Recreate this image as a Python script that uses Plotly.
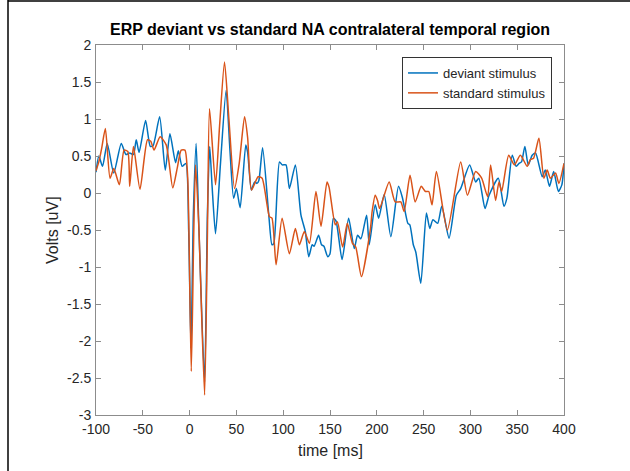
import plotly.graph_objects as go

# ---- data ----
dev_t = [-100, -97, -93, -88, -81, -73, -68, -64, -60, -57, -54, -47, -42, -39, -32, -26, -21, -15, -12, -8,
         -4, -1, 1.5, 4, 7, 10, 16, 19, 21.5, 24, 27.7, 33, 39, 43, 47, 50, 54, 60, 62, 66,
         69.5, 72, 74, 78, 84.6, 88, 90, 96, 99, 103, 106.6, 113, 119, 123.6, 127.3, 131, 133, 137.8, 141, 143.5,
         147.5, 150, 153.6, 156.5, 162.9, 169.9, 175.9, 179.5, 183, 189.1, 191.9, 198.3, 202, 207.9, 215, 223.2, 227.5, 233.2, 235.3, 239,
         241.7, 247, 253, 256.6, 260, 265, 269.4, 277.2, 285, 289.6, 299.2, 305.6, 309, 315.6, 320, 329.8, 335.8, 339, 344.7, 349,
         352, 354.6, 358.2, 361.8, 366, 369.6, 376.7, 380, 384.5, 389, 394, 397.7, 400]
dev_v = [0.28, 0.50, 0.36, 0.67, 0.27, 0.67, 0.52, 0.54, 0.52, 0.72, 0.55, 0.98, 0.63, 0.64, 1.03, 0.31, 0.80, 0.41, 0.57, 0.36,
         0.40, -0.5, -2.1, -0.3, 0.67, -0.5, -2.55, -0.3, 0.63, 0.1, -0.55, 0.4, 1.39, 0.6, -0.07, 0.06, -0.2, 0.65, 0.55, 0.04,
         0.15, 0.13, 0.17, 0.61, -0.3, -0.7, -0.68, 0.42, 0.38, 0.38, 0.06, 0.38, -0.3, -0.52, -0.86, -0.7, -0.72, -0.57, -0.7, -0.72,
         -0.86, -0.82, -0.34, -0.38, -0.9, -0.34, -0.75, -0.57, -0.62, -0.3, -0.7, -0.16, -0.34, -0.02, -0.59, 0.09, -0.07, -0.41, -0.43, -0.7,
         -0.8, -1.22, -0.27, -0.48, -0.36, -0.41, -0.18, -0.61, -0.03, 0.06, 0.38, 0.15, 0.2, -0.21, -0.03, 0.2, -0.18, -0.07, 0.51, 0.36,
         0.40, 0.42, 0.63, 0.38, 0.51, 0.54, 0.22, 0.31, 0.09, 0.29, 0.02, 0.11, 0.40]

std_t = [-100, -97, -94, -90, -85, -81, -75, -70, -66, -64, -60, -53, -45, -41.5, -38, -31.5, -25, -18, -13, -9,
         -5, -2, 1.8, 4.5, 6.4, 10, 16, 19, 21.3, 27.7, 32, 37.3, 42, 48, 53, 58.7, 62, 66.1, 73.2, 77.5,
         85.3, 88, 92.4, 98.8, 106.6, 113, 117.3, 122.6, 128, 135, 140.4, 146.8, 149, 155.6, 158, 163.5, 168.5, 174, 177.5, 183.6,
         193.2, 195, 198.3, 200.8, 203, 213.2, 219.6, 225.6, 229.2, 235.5, 241, 247.5, 252, 255.5, 259, 263.7, 275.4, 289.6, 296.8, 305.6,
         312, 318.4, 321.6, 326.9, 330.5, 333.4, 340.9, 347, 353.4, 360.7, 364, 367.5, 373.2, 378.5, 382, 385.5, 391, 394.5, 400]
std_v = [0.30, 0.42, 0.60, 0.87, 0.20, 0.33, 0.11, 0.58, 0.56, 0.09, 0.63, 0.05, 0.72, 0.70, 0.58, 0.76, 0.65, 0.07, 0.35, 0.58,
         0.58, 0.20, -2.41, -0.5, 0.38, -0.5, -2.73, -0.6, 1.14, 0.11, 0.9, 1.77, 1.0, 0.06, 0.4, 1.03, 0.75, 0.04, 0.22, 0.20,
         -0.32, -0.34, -0.97, -0.34, -0.82, -0.48, -0.7, -0.52, -0.68, 0.02, -0.45, 0.15, 0.08, -0.43, -0.39, -0.73, -0.41, -0.68, -0.73, -1.13,
         -0.48, -0.25, -0.03, -0.1, -0.21, 0.15, -0.12, -0.12, -0.25, 0.24, -0.12, 0.09, 0.02, 0.02, -0.16, 0.29, -0.5, 0.42, -0.03, 0.29,
         0.2, -0.05, 0.38, -0.1, 0.15, 0.02, 0.51, 0.38, 0.51, 0.36, 0.45, 0.47, 0.74, 0.2, 0.31, 0.2, 0.27, 0.13, 0.40]

x_ticks = [-100, -50, 0, 50, 100, 150, 200, 250, 300, 350, 400]
x_labels = ["-100", "-50", "0", "50", "100", "150", "200", "250", "300", "350", "400"]
y_ticks = [-3, -2.5, -2, -1.5, -1, -0.5, 0, 0.5, 1, 1.5, 2]
y_labels = ["-3", "-2.5", "-2", "-1.5", "-1", "-0.5", "0", "0.5", "1", "1.5", "2"]

title_text = "ERP deviant vs standard NA contralateral temporal region"
x_title = "time [ms]"
y_title = "Volts [uV]"

FONT = "Liberation Sans, Arial, sans-serif"
TXT = "#262626"
AX = "#8c8c8c"

fig = go.Figure()
fig.add_trace(go.Scatter(x=dev_t, y=dev_v, mode="lines", name="deviant stimulus",
                         line=dict(color="#0072BD", width=1.5, shape="spline", smoothing=0.6)))
fig.add_trace(go.Scatter(x=std_t, y=std_v, mode="lines", name="standard stimulus",
                         line=dict(color="#D95319", width=1.5, shape="spline", smoothing=0.6)))

axis_common = dict(showline=True, linecolor=AX, linewidth=1, mirror="ticks", ticks="inside",
                   ticklen=5, tickcolor=AX, showgrid=False, zeroline=False,
                   tickfont=dict(family=FONT, size=14, color=TXT))
fig.update_xaxes(range=[-100, 400], tickvals=x_ticks, ticktext=x_labels,
                 ticklabelstandoff=1, **axis_common)
fig.update_yaxes(range=[-3, 2], tickvals=y_ticks, ticktext=y_labels,
                 ticklabelstandoff=1, **axis_common)

L, R, T, B = 96, 66, 45, 56
W, H = 630, 471
pw, ph = W - L - R, H - T - B

def px(x):
    return (x - L) / pw

def py(y):
    return (H - B - y) / ph

fig.update_layout(
    width=W, height=H, margin=dict(l=L, r=R, t=T, b=B),
    paper_bgcolor="white", plot_bgcolor="white",
    showlegend=True,
    legend=dict(x=px(552), y=py(57), xanchor="right", yanchor="top",
                bgcolor="white", bordercolor="#333333", borderwidth=1,
                font=dict(family=FONT, size=13, color=TXT),
                tracegroupgap=0, itemwidth=30),
    annotations=[
        dict(text="<b>" + title_text + "</b>", x=px(330), y=py(29), xref="paper", yref="paper",
             showarrow=False, xanchor="center", yanchor="middle",
             font=dict(family=FONT, size=16, color="black")),
        dict(text=x_title, x=px(330), y=py(451), xref="paper", yref="paper",
             showarrow=False, xanchor="center", yanchor="middle",
             font=dict(family=FONT, size=16, color=TXT)),
        dict(text=y_title, x=px(52), y=py(230), xref="paper", yref="paper",
             showarrow=False, xanchor="center", yanchor="middle", textangle=-90,
             font=dict(family=FONT, size=16, color=TXT)),
    ],
    shapes=[
        dict(type="line", xref="paper", yref="paper", x0=px(8), x1=px(8), y0=py(0), y1=py(471),
             line=dict(color="black", width=1.5)),
        dict(type="line", xref="paper", yref="paper", x0=px(8), x1=px(630), y0=py(1), y1=py(1),
             line=dict(color="black", width=1.5)),
    ],
)

fig.write_html("out.html")
